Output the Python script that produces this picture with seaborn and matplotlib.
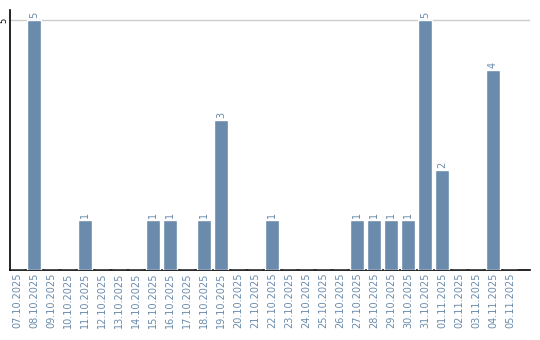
import matplotlib
matplotlib.use("Agg")
import matplotlib.pyplot as plt
import seaborn as sns
import pandas as pd

dates = ["07.10.2025", "08.10.2025", "09.10.2025", "10.10.2025", "11.10.2025",
         "12.10.2025", "13.10.2025", "14.10.2025", "15.10.2025", "16.10.2025",
         "17.10.2025", "18.10.2025", "19.10.2025", "20.10.2025", "21.10.2025",
         "22.10.2025", "23.10.2025", "24.10.2025", "25.10.2025", "26.10.2025",
         "27.10.2025", "28.10.2025", "29.10.2025", "30.10.2025", "31.10.2025",
         "01.11.2025", "02.11.2025", "03.11.2025", "04.11.2025", "05.11.2025"]
counts = [0, 5, 0, 0, 1, 0, 0, 0, 1, 1, 0, 1, 3, 0, 0, 1, 0, 0, 0, 0,
          1, 1, 1, 1, 5, 2, 0, 0, 4, 0]
y_ticks = [5]

df = pd.DataFrame({"date": dates, "count": counts})

sns.set_theme(style="white")
plt.rcParams['font.family'] = ['DejaVu Sans']

bar_color = "#6a8bab"
text_color = "#6a8bab"

fig = plt.figure(figsize=(5.4, 3.4), dpi=100)
ax = fig.add_axes([10/540, 70/340, 520/540, 260/340])

sns.barplot(data=df, x="date", y="count", color=bar_color, width=0.8,
            saturation=1, ax=ax, zorder=3)

for i, v in enumerate(counts):
    if v > 0:
        ax.text(i, v + 0.05, str(v), rotation=90, ha="center", va="bottom",
                fontsize=7, color=text_color)

ax.set_xlim(-0.41, 30.18)
ax.set_ylim(0, 5.2)
ax.set_yticks(y_ticks)
ax.set_yticklabels([str(t) for t in y_ticks], rotation=90, va="center",
                   ha="right", fontsize=6, color="black")
ax.yaxis.grid(True, color="#cccccc", linewidth=1, zorder=0)
ax.set_axisbelow(True)
ax.set_xticks(range(len(dates)))
ax.set_xticklabels(dates, rotation=90, fontsize=7, color=text_color)
ax.tick_params(axis="x", length=0, pad=2)
ax.tick_params(axis="y", length=0, pad=1)
ax.set_xlabel("")
ax.set_ylabel("")

for s in ["top", "right"]:
    ax.spines[s].set_visible(False)
for s in ["left", "bottom"]:
    ax.spines[s].set_color("black")
    ax.spines[s].set_linewidth(1.2)

fig.savefig("out.png", dpi=100)
